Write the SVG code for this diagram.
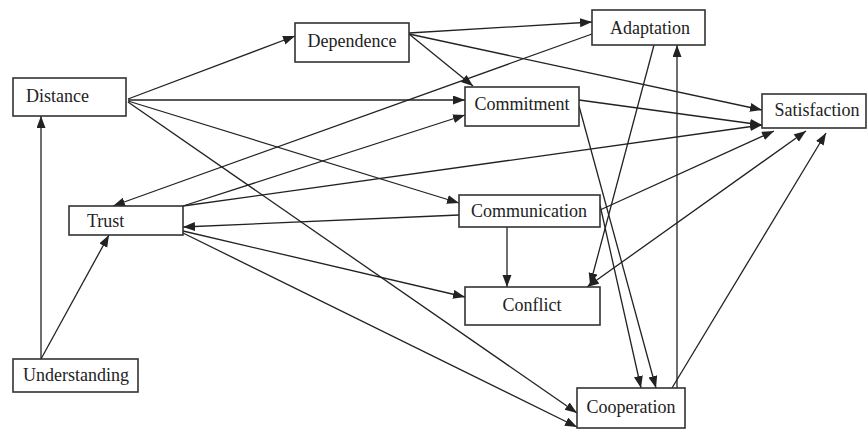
<svg xmlns="http://www.w3.org/2000/svg" width="868" height="432" viewBox="0 0 868 432">
<defs>
<marker id="ah" markerUnits="userSpaceOnUse" markerWidth="13" markerHeight="10" refX="12" refY="4.5" orient="auto-start-reverse">
<path d="M0,0 L12,4.5 L0,9 z" fill="#222"/>
</marker>
</defs>
<style>
.box{fill:#fff;stroke:#333;stroke-width:1.6}
.lbl{font-family:"Liberation Serif","Times New Roman",serif;font-size:18px;fill:#222}
.c{text-anchor:middle}
.e{fill:none;stroke:#222;stroke-width:1.3;marker-end:url(#ah)}
.b{marker-start:url(#ah)}
</style>
<rect width="868" height="432" fill="#fff"/>
<g id="connectors">
<path class="e" d="M128,99 L295,36"/>
<path class="e" d="M128,100 L465,100"/>
<path class="e" d="M128,101 L459,203"/>
<path class="e" d="M128,102 L577,413"/>
<path class="e" d="M409,33 L592,22"/>
<path class="e" d="M409,34 L473,86"/>
<path class="e" d="M409,34 L762,110"/>
<path class="e" d="M592,34 L113,206"/>
<path class="e" d="M654,45 L590,285"/>
<path class="e" d="M183,206 L465,115"/>
<path class="e" d="M183,206 L762,125"/>
<path class="e" d="M579,100 L762,125"/>
<path class="e" d="M579,106 L656,388"/>
<path class="e" d="M459,215 L183,227"/>
<path class="e" d="M507,227 L507,287"/>
<path class="e" d="M600,205 L641,388"/>
<path class="e" d="M600,210 L774,131"/>
<path class="e b" d="M587,287 L806,131"/>
<path class="e" d="M677,388 L677,45"/>
<path class="e" d="M672,388 L826,133"/>
<path class="e" d="M41,359 L41,116"/>
<path class="e" d="M41,359 L109,235"/>
<path class="e" d="M183,231 L465,297"/>
<path class="e" d="M183,233 L577,427"/>
</g>
<g id="distance"><rect class="box" x="13" y="78" width="113" height="38"/><text class="lbl" x="26" y="102">Distance</text></g>
<g id="dependence"><rect class="box" x="295" y="23" width="114" height="39"/><text class="lbl c" x="352" y="47">Dependence</text></g>
<g id="adaptation"><rect class="box" x="592" y="10" width="113" height="35"/><text class="lbl c" x="650" y="34">Adaptation</text></g>
<g id="commitment"><rect class="box" x="465" y="87" width="114" height="39"/><text class="lbl c" x="522" y="110">Commitment</text></g>
<g id="satisfaction"><rect class="box" x="762" y="94" width="104" height="34"/><text class="lbl c" x="817" y="116">Satisfaction</text></g>
<g id="trust"><rect class="box" x="69" y="206" width="114" height="29"/><text class="lbl" x="87" y="227">Trust</text></g>
<g id="communication"><rect class="box" x="459" y="195" width="141" height="32"/><text class="lbl c" x="529" y="217">Communication</text></g>
<g id="conflict"><rect class="box" x="465" y="287" width="135" height="38"/><text class="lbl c" x="532" y="311">Conflict</text></g>
<g id="understanding"><rect class="box" x="13" y="359" width="125" height="33"/><text class="lbl c" x="76" y="381">Understanding</text></g>
<g id="cooperation"><rect class="box" x="577" y="388" width="108" height="40"/><text class="lbl c" x="631" y="413">Cooperation</text></g>
</svg>
